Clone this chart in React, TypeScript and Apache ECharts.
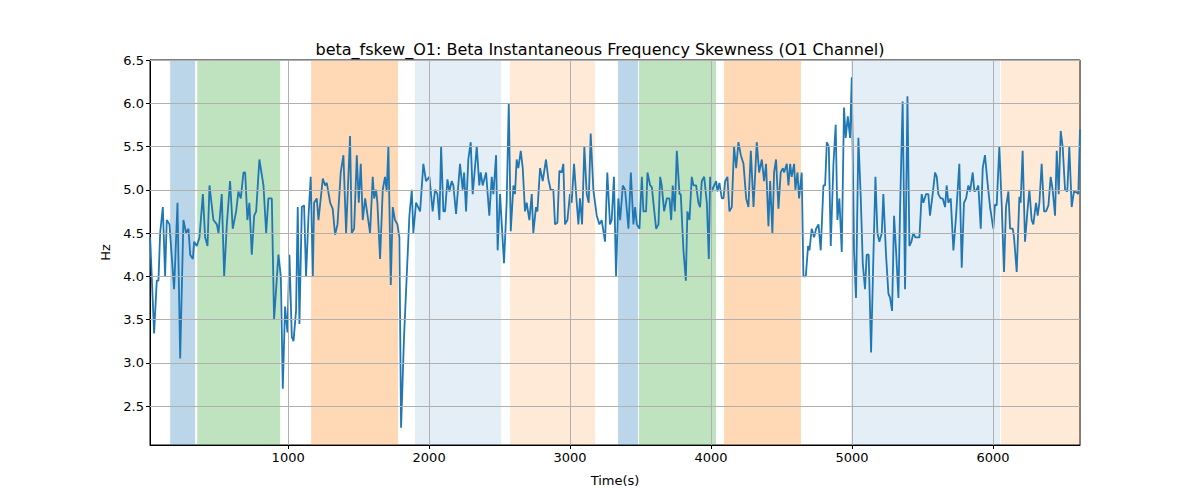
import React, { useEffect, useRef } from 'react';
import * as echarts from 'echarts';

// time (s) and beta skewness (Hz)
const times = [
  21, 49, 68, 80, 92, 111, 127, 139, 158, 191, 215, 234, 257, 276, 293, 305, 324, 333, 352, 371, 395, 411, 428, 442, 470, 494, 506, 529, 546, 565, 588, 607, 631, 647, 664, 683, 695, 711, 725, 742, 759, 773, 796, 825, 844, 860, 884, 900, 931, 948, 962, 978, 995, 1009, 1026, 1038, 1056, 1068, 1080, 1097, 1113, 1127, 1144, 1160, 1175, 1184, 1203, 1215, 1246, 1262, 1274, 1298, 1316, 1333, 1350, 1373, 1392, 1411, 1439, 1451, 1468, 1487, 1501, 1515, 1529, 1546, 1581, 1600, 1610, 1624, 1633, 1652,
  1671, 1687, 1699, 1711, 1728, 1742, 1758, 1775, 1789, 1801, 1822, 1841, 1860, 1877, 1888, 1907, 1936, 1959, 1978, 2002, 2025, 2042, 2059, 2073, 2085, 2101, 2113, 2130, 2144, 2160, 2172, 2191, 2219, 2238, 2248, 2262, 2278, 2295, 2309, 2338, 2356, 2366, 2380, 2404, 2427, 2444, 2456, 2475, 2486, 2503, 2531, 2550, 2565, 2579, 2598, 2609, 2621, 2633, 2650, 2664, 2680, 2692, 2711, 2728, 2739, 2758, 2768, 2787, 2806, 2829, 2846, 2862, 2881, 2893, 2910, 2924, 2940, 2952, 2964, 2981, 2999, 3011, 3028, 3047, 3059, 3070, 3085, 3101, 3118, 3132, 3146, 3165, 3189, 3208, 3224, 3248, 3264, 3283, 3295, 3311, 3326, 3342,
  3355, 3374, 3390, 3414, 3431, 3449, 3461, 3473, 3492, 3509, 3520, 3539, 3549, 3568, 3580, 3591, 3610, 3627, 3639, 3650, 3667, 3686, 3705, 3717, 3728, 3743, 3757, 3776, 3785, 3804, 3821, 3832, 3847, 3863, 3875, 3894, 3910, 3922, 3934, 3951, 3970, 3984, 3993, 4005, 4022, 4036, 4045, 4059, 4076, 4088, 4100, 4116, 4130, 4147, 4163, 4178, 4194, 4211, 4230, 4249, 4265, 4282, 4301, 4324, 4341, 4360, 4376, 4390, 4407, 4419, 4435, 4447, 4461, 4478, 4494, 4509, 4518, 4537, 4549, 4561, 4572, 4589, 4598, 4613, 4624, 4643, 4655, 4672, 4688, 4698, 4714, 4731, 4745, 4762, 4778, 4797, 4809, 4821, 4835, 4849, 4868, 4884, 4896, 4910, 4927, 4943, 4955, 4970, 4986,
  4998, 5014, 5028, 5045, 5062, 5076, 5092, 5104, 5118, 5135, 5151, 5166, 5180, 5194, 5211, 5222, 5241, 5258, 5270, 5284, 5298, 5312, 5329, 5341, 5359, 5376, 5393, 5407, 5421, 5435, 5449, 5478, 5494, 5506, 5525, 5541, 5553, 5572, 5589, 5601, 5612, 5629, 5643, 5660, 5671, 5683, 5700, 5719, 5738, 5761, 5778, 5794, 5809, 5825, 5837, 5856, 5868, 5884, 5896, 5913, 5927, 5943, 5960, 5979, 6002, 6014, 6026, 6045, 6062, 6078, 6092, 6109, 6121, 6140, 6149, 6168, 6187, 6196, 6210, 6227, 6244, 6258, 6274, 6286, 6305, 6317, 6329, 6345, 6362, 6376, 6393, 6409, 6423, 6440, 6452, 6466, 6480, 6494, 6511, 6527, 6541, 6558, 6574, 6593, 6605, 6617,
];
const skew = [
  4.45, 3.34, 3.95, 3.95, 4.5, 4.8, 4.0, 4.65, 4.6, 3.85, 4.85, 3.05, 4.65, 4.5, 4.55, 4.25, 4.2, 4.4, 4.35, 4.45, 4.95, 4.45, 4.35, 5.05, 4.65, 4.6, 4.5, 4.95, 4.0, 4.6, 5.1, 4.55, 4.75, 4.98, 4.9, 5.2, 5.2, 4.65, 4.85, 4.25, 4.7, 4.75, 5.35, 5.05, 4.5, 4.9, 4.9, 3.5, 4.25, 4.0, 2.7, 3.65, 3.35, 4.25, 3.3, 3.25, 3.6, 4.8, 3.45, 4.8, 4.82, 4.0, 4.68, 5.15, 4.0, 4.85, 4.9, 4.65, 5.13, 5.05, 5.08, 4.85, 4.78, 4.48, 4.6, 5.2, 5.4, 4.5, 5.62, 4.5, 4.55, 5.4, 4.85, 5.3, 4.65, 4.9, 4.5, 5.15, 4.9, 5.0, 4.85, 4.2,
  5.0, 5.15, 4.98, 5.5, 3.9, 4.8, 4.65, 4.6, 4.45, 2.25, 3.3, 4.0, 4.7, 5.0, 4.5, 4.85, 4.75, 5.3, 5.1, 5.15, 4.75, 5.0, 4.95, 4.65, 5.5, 4.75, 4.75, 5.12, 4.98, 5.1, 5.05, 4.72, 5.3, 5.0, 5.2, 4.75, 5.35, 5.55, 4.95, 5.5, 5.05, 5.2, 5.05, 5.2, 4.7, 5.15, 4.95, 5.4, 4.3, 4.95, 4.15, 4.85, 6.0, 4.52, 5.05, 4.95, 5.35, 5.25, 5.45, 5.25, 4.75, 4.85, 4.65, 4.95, 4.5, 4.8, 4.75, 5.25, 5.1, 5.35, 5.12, 5.0, 5.0, 4.6, 4.62, 5.22, 5.2, 5.3, 4.6, 4.65, 4.95, 4.85, 5.3, 4.85, 4.6, 4.9, 4.6, 5.5, 4.95, 4.85, 5.65, 5.0, 4.7, 4.6, 4.65, 4.4, 5.2, 4.6, 4.65, 5.15, 4.0, 4.9,
  4.65, 5.05, 5.0, 4.55, 5.2, 4.6, 4.8, 4.6, 4.55, 5.15, 4.75, 4.75, 5.2, 5.05, 5.03, 4.85, 4.55, 4.6, 5.15, 5.05, 4.75, 4.9, 4.9, 4.65, 5.05, 4.75, 5.45, 4.95, 4.95, 4.3, 3.95, 4.75, 4.65, 5.15, 5.05, 5.05, 4.85, 4.8, 5.1, 5.15, 4.85, 4.2, 5.15, 4.98, 5.05, 5.1, 4.98, 5.08, 4.9, 4.9, 5.1, 5.15, 4.75, 4.8, 5.5, 5.25, 5.55, 5.4, 5.3, 4.9, 4.8, 5.45, 4.8, 5.55, 5.2, 5.35, 5.1, 5.3, 4.58, 5.1, 4.5, 5.2, 5.35, 4.78, 5.2, 5.25, 5.2, 5.3, 5.05, 5.3, 5.15, 5.3, 5.0, 5.2, 4.9, 5.2, 4.0, 4.0, 4.35, 4.3, 4.55, 4.45, 4.55, 4.6, 4.3, 5.05, 5.05, 5.55, 5.5, 4.35, 5.3, 5.75, 4.65, 4.9, 4.28, 5.95, 5.6, 5.85, 5.6,
  6.3, 4.3, 3.75, 5.6, 4.9, 4.15, 3.85, 4.25, 4.25, 3.12, 4.2, 5.15, 4.5, 4.4, 4.5, 4.95, 4.25, 3.8, 3.75, 3.6, 4.7, 4.3, 3.75, 4.8, 6.02, 3.85, 6.08, 4.35, 4.4, 4.5, 4.45, 4.45, 4.95, 4.85, 4.95, 4.95, 4.7, 4.95, 5.2, 5.15, 4.95, 4.9, 4.9, 4.8, 5.05, 4.85, 4.9, 4.3, 4.7, 5.3, 4.1, 4.85, 4.9, 5.05, 4.98, 5.2, 4.98, 5.0, 5.05, 4.55, 5.25, 5.4, 5.1, 4.8, 4.55, 4.83, 4.82, 5.5, 4.8, 4.05, 4.8, 4.98, 4.55, 4.55, 4.45, 4.05, 4.92, 4.85, 5.45, 4.4, 4.75, 5.0, 4.65, 4.6, 4.85, 4.7, 4.85, 5.3, 4.75, 4.75, 4.82, 5.15, 5.0, 4.7, 5.45, 4.95, 5.68, 5.5, 5.0, 4.98, 5.5, 4.8, 4.98, 4.97, 4.95, 5.7,
];

// shaded segments: start, end, colour
const bandStarts = [163, 355, 1163, 1900, 2574, 3340, 3489, 4092, 4993, 6057];
const bandEnds = [340, 943, 1780, 2511, 3177, 3482, 4035, 4638, 6050, 6617];
const bandColors = [
  'rgba(31,119,180,0.3)', 'rgba(44,160,44,0.3)', 'rgba(255,127,14,0.3)',
  'rgba(31,119,180,0.12)', 'rgba(255,127,14,0.16)', 'rgba(31,119,180,0.3)',
  'rgba(44,160,44,0.3)', 'rgba(255,127,14,0.3)', 'rgba(31,119,180,0.12)',
  'rgba(255,127,14,0.16)',
];

const xTicks = [1000, 2000, 3000, 4000, 5000, 6000];
const yTicks = [2.5, 3.0, 3.5, 4.0, 4.5, 5.0, 5.5, 6.0, 6.5];

const App = () => {
  const chartRef = useRef(null);

  useEffect(() => {
    document.body.style.margin = '0';
    const chart = echarts.init(chartRef.current, null, { renderer: 'svg' });
    const gridLine = { color: '#b0b0b0', width: 1, type: 'solid' };
    const font = 'DejaVu Sans';

    chart.setOption({
      animation: false,
      textStyle: { fontFamily: font },
      title: {
        text: 'beta_fskew_O1: Beta Instantaneous Frequency Skewness (O1 Channel)',
        left: 'center',
        top: 36,
        textStyle: { fontSize: 16, fontWeight: 'normal', color: '#000', fontFamily: font },
      },
      grid: {
        left: 150, right: 120, top: 60, bottom: 55,
        show: true, borderColor: '#000', borderWidth: 1, backgroundColor: 'transparent',
      },
      xAxis: {
        type: 'value',
        min: 20,
        max: 6617,
        name: 'Time(s)',
        nameLocation: 'middle',
        nameGap: 29,
        nameTextStyle: { fontSize: 13, color: '#000' },
        axisLine: { lineStyle: { color: '#000' } },
        axisTick: { customValues: xTicks, lineStyle: { color: '#000' }, length: 4 },
        axisLabel: {
          customValues: xTicks,
          color: '#000',
          fontSize: 13,
          margin: 6,
          formatter: (v: number) => String(v),
        },
        splitLine: { show: false },
      },
      yAxis: {
        type: 'value',
        min: 2.05,
        max: 6.5,
        name: 'Hz',
        nameLocation: 'middle',
        nameGap: 38,
        nameTextStyle: { fontSize: 13, color: '#000' },
        axisLine: { show: true, lineStyle: { color: '#000' } },
        axisTick: { show: true, customValues: yTicks, lineStyle: { color: '#000' }, length: 4 },
        axisLabel: {
          customValues: yTicks,
          color: '#000',
          fontSize: 13,
          margin: 6,
          formatter: (v: number) => v.toFixed(1),
        },
        splitLine: { show: false },
      },
      series: [
        {
          type: 'line',
          data: [],
          silent: true,
          markArea: {
            silent: true,
            data: bandStarts.map((s, i) => [
              { xAxis: s, itemStyle: { color: bandColors[i] } },
              { xAxis: bandEnds[i] },
            ]),
          },
          markLine: {
            silent: true,
            symbol: 'none',
            label: { show: false },
            lineStyle: gridLine,
            data: [
              ...xTicks.map((t) => ({ xAxis: t })),
              ...yTicks.map((t) => ({ yAxis: t })),
            ],
          },
        },
        {
          type: 'line',
          data: times.map((t, i) => [t, skew[i]]),
          showSymbol: false,
          lineStyle: { color: '#1f77b4', width: 1.8 },
          itemStyle: { color: '#1f77b4' },
        },
      ],
    });

    return () => {
      chart.dispose();
    };
  }, []);

  return <div ref={chartRef} style={{ width: '1200px', height: '500px' }} />;
};

export default App;
